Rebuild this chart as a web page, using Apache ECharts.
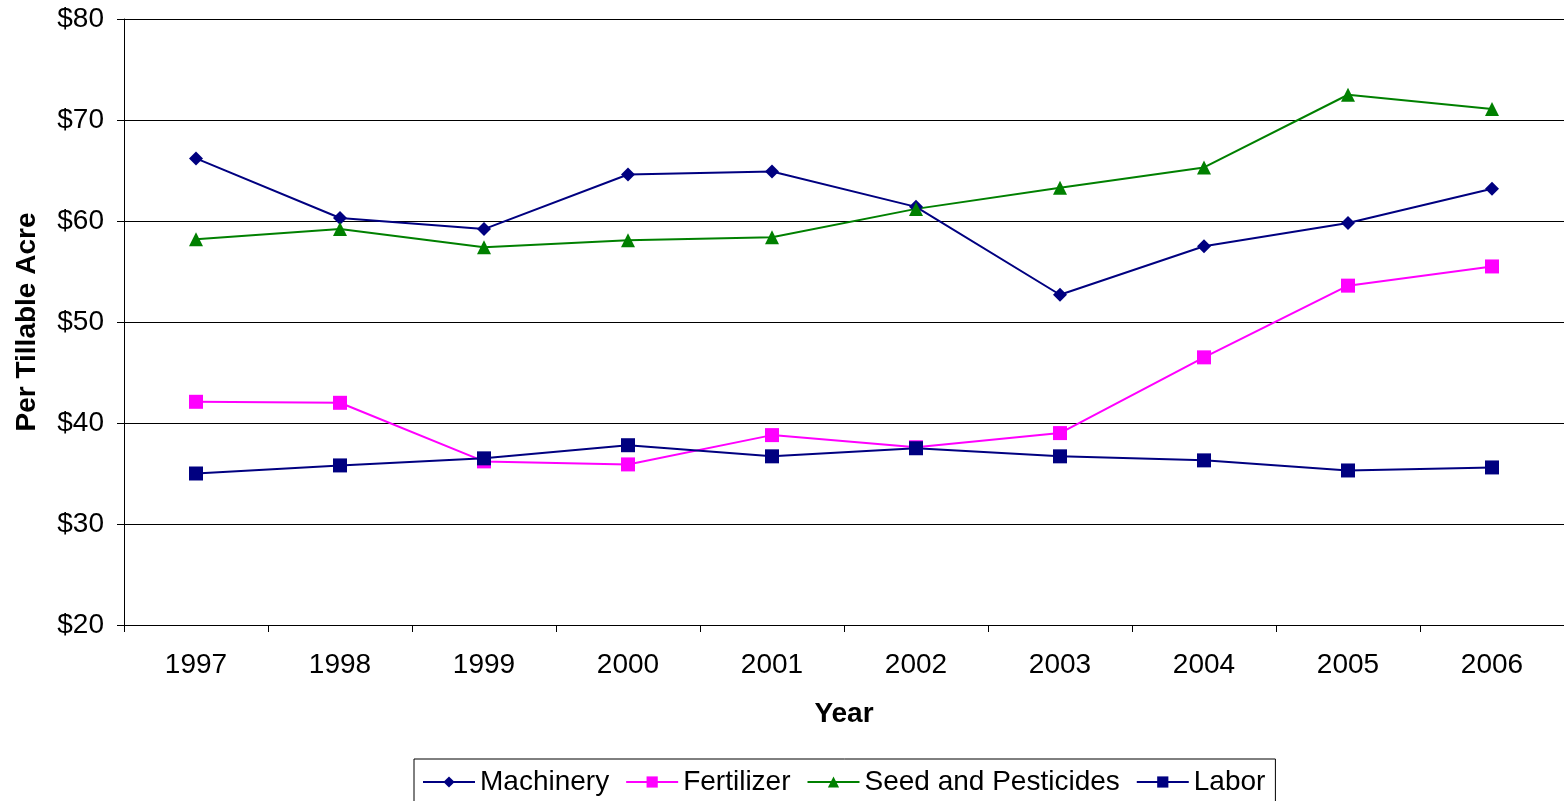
<!DOCTYPE html>
<html><head><meta charset="utf-8">
<script src="https://cdn.jsdelivr.net/npm/echarts@6/dist/echarts.min.js"></script>
<style>html,body{margin:0;padding:0;background:#fff}#c{width:1564px;height:801px}</style>
</head><body><div id="c"></div>
<script>
const years = ['1997','1998','1999','2000','2001','2002','2003','2004','2005','2006'];
const machinery = [66.2, 60.3, 59.2, 64.6, 64.9, 61.4, 52.7, 57.5, 59.8, 63.2];
const fertilizer = [42.1, 42.0, 36.2, 35.9, 38.8, 37.6, 39.0, 46.5, 53.6, 55.5];
const seedPesticides = [58.2, 59.2, 57.4, 58.1, 58.4, 61.2, 63.3, 65.3, 72.5, 71.1];
const labor = [35.0, 35.8, 36.5, 37.8, 36.7, 37.5, 36.7, 36.3, 35.3, 35.6];
const yTicks = {min: 20, max: 80, interval: 10};

const font = 'Liberation Sans, Arial, sans-serif';
const chart = echarts.init(document.getElementById('c'));
function s(name, data, color, symbol, size) {
  return {name, type: 'line', data, symbol, symbolSize: size, showAllSymbol: true,
    lineStyle: {color, width: 2}, itemStyle: {color}, emphasis: {disabled: true}};
}
chart.setOption({
  animation: false,
  textStyle: {fontFamily: font},
  grid: {left: 124, right: 0, top: 19, bottom: 176, containLabel: false, outerBoundsMode: 'none'},
  legend: {
    top: 759, left: 414, itemWidth: 52, itemHeight: 14, itemGap: 16,
    padding: [9, 10, 8, 8], borderColor: '#000', borderWidth: 1,
    textStyle: {fontSize: 28, color: '#000', fontFamily: font},
    data: ['Machinery', 'Fertilizer', 'Seed and Pesticides', 'Labor']
  },
  xAxis: {
    type: 'category', data: years, boundaryGap: true,
    name: 'Year', nameLocation: 'middle', nameGap: 75,
    nameTextStyle: {fontSize: 28, fontWeight: 'bold', color: '#000'},
    axisLine: {lineStyle: {color: '#000', width: 1}},
    axisTick: {show: true, length: 7, inside: false, lineStyle: {color: '#000'}},
    axisLabel: {fontSize: 28, color: '#000', margin: 26}
  },
  yAxis: {
    type: 'value', min: yTicks.min, max: yTicks.max, interval: yTicks.interval,
    name: 'Per Tillable Acre', nameLocation: 'middle', nameGap: 83,
    nameTextStyle: {fontSize: 28, fontWeight: 'bold', color: '#000'},
    axisLine: {show: true, lineStyle: {color: '#000', width: 1}},
    axisTick: {show: true, length: 7, lineStyle: {color: '#000'}},
    axisLabel: {fontSize: 28, color: '#000', margin: 20, formatter: v => '$' + v},
    splitLine: {show: true, lineStyle: {color: '#000', width: 1}}
  },
  series: [
    s('Machinery', machinery, '#000080', 'diamond', 14),
    s('Fertilizer', fertilizer, '#FF00FF', 'rect', 14),
    s('Seed and Pesticides', seedPesticides, '#008000', 'triangle', 14),
    s('Labor', labor, '#000080', 'rect', 14)
  ]
});
</script></body></html>
